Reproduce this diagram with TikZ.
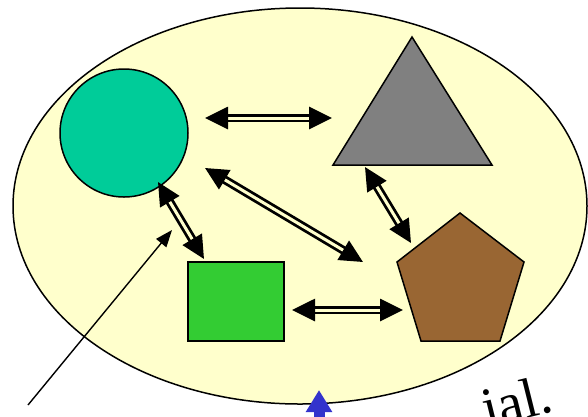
\documentclass[tikz,border=0pt]{standalone}
\usepackage{fontspec}
\setmainfont{Liberation Serif}
\usetikzlibrary{arrows.meta,shapes.geometric}
\definecolor{bgy}{HTML}{FFFFCC}
\definecolor{teal1}{HTML}{00CC99}
\definecolor{gray1}{HTML}{808080}
\definecolor{brown1}{HTML}{996633}
\definecolor{green1}{HTML}{33CC33}
\definecolor{blue1}{HTML}{3333CC}
\tikzset{
  shapeline/.style={draw=black, line width=1.5pt, line join=miter},
  dbl/.style={draw=black, line width=2.8pt, double=bgy, double distance=3pt,
    {Triangle[length=23pt,width=22pt]}-{Triangle[length=23pt,width=22pt]}},
  pointer/.style={draw=black, line width=1.4pt, -{Triangle[length=17pt,width=13pt]}}
}
\begin{document}
\begin{tikzpicture}[x=1pt,y=-1pt]
\useasboundingbox (0,0) rectangle (588,416);
\clip (0,0) rectangle (588,416);
\node[ellipse, shapeline, fill=bgy, minimum width=574pt, minimum height=396pt, inner sep=0pt] (set) at (300,206) {};
\node[circle, shapeline, fill=teal1, minimum size=128pt, inner sep=0pt] (circ) at (124,133) {};
\node[rectangle, shapeline, fill=green1, minimum width=96pt, minimum height=79pt, inner sep=0pt] (sq) at (236,301.5) {};
\coordinate (t1) at (412,37);
\coordinate (t2) at (492,165);
\coordinate (t3) at (333,165);
\draw[shapeline, fill=gray1] (t1) -- (t2) -- (t3) -- cycle;
\coordinate (p1) at (460,213);
\coordinate (p2) at (524,262);
\coordinate (p3) at (500,341);
\coordinate (p4) at (421,341);
\coordinate (p5) at (397,262);
\draw[shapeline, fill=brown1] (p1) -- (p2) -- (p3) -- (p4) -- (p5) -- cycle;
% arrow end points
\coordinate (a1s) at (205,118); \coordinate (a1e) at (332,118);
\coordinate (a2s) at (205,168); \coordinate (a2e) at (363,262);
\coordinate (a3s) at (158,182); \coordinate (a3e) at (204,259);
\coordinate (a4s) at (365,167); \coordinate (a4e) at (411,243);
\coordinate (a5s) at (292,310); \coordinate (a5e) at (403,310);
\draw[dbl] (a1s) -- (a1e);
\draw[dbl] (a2s) -- (a2e);
\draw[dbl] (a3s) -- (a3e);
\draw[dbl] (a4s) -- (a4e);
\draw[dbl] (a5s) -- (a5e);
\coordinate (ps) at (28,405);
\coordinate (pe) at (172,230);
\draw[pointer] (ps) -- (pe);
\coordinate (bs) at (319,430);
\coordinate (be) at (319,390);
\draw[blue1, line width=11pt, -{Triangle[length=22pt,width=25pt]}] (bs) -- (be);
\node[rotate=14, font=\fontsize{56}{56}\selectfont, anchor=base west, inner sep=0pt] (txt) at (487,428) {ial.};
\end{tikzpicture}
\end{document}
